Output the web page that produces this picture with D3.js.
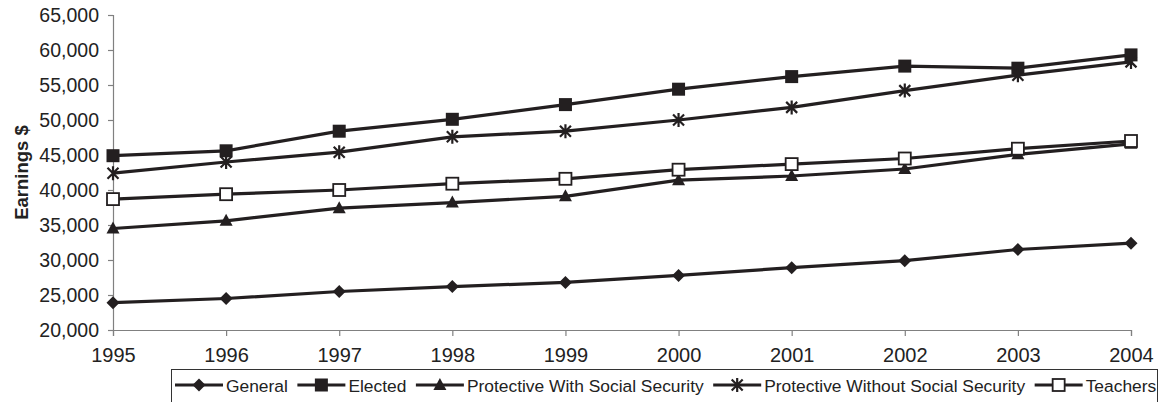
<!DOCTYPE html>
<html>
<head>
<meta charset="utf-8">
<script src="https://cdn.jsdelivr.net/npm/d3@7"></script>
<style>
  html, body { margin: 0; padding: 0; background: #fff; }
  svg { display: block; font-family: "Liberation Sans", Arial, sans-serif; }
</style>
</head>
<body>
<svg id="chart" width="1168" height="402"></svg>
<script>
// Annual earnings by employee group, 1995–2004
const years = [1995, 1996, 1997, 1998, 1999, 2000, 2001, 2002, 2003, 2004];
const general      = [23900, 24500, 25500, 26200, 26800, 27800, 28900, 29900, 31500, 32400];
const elected      = [44900, 45600, 48400, 50100, 52200, 54400, 56200, 57700, 57400, 59300];
const protWithSS   = [34500, 35600, 37400, 38200, 39100, 41400, 42000, 43000, 45100, 46600];
const protNoSS     = [42400, 44000, 45400, 47600, 48400, 50000, 51800, 54200, 56400, 58300];
const teachers     = [38700, 39400, 40000, 40900, 41600, 42900, 43700, 44500, 45900, 47000];
const yTicks = [20000, 25000, 30000, 35000, 40000, 45000, 50000, 55000, 60000, 65000];

const seriesNames = ["General", "Elected", "Protective With Social Security",
                     "Protective Without Social Security", "Teachers"];
const seriesValues = [general, elected, protWithSS, protNoSS, teachers];
const seriesMarkers = ["diamond", "square", "triangle", "asterisk", "openSquare"];

const INK = "#231f20";
const AXIS = "#808080";
const FONT = "'Liberation Sans', Arial, sans-serif";

const svg = d3.select("#chart");
const margin = { left: 113, right: 37, top: 15, bottom: 72 };
const W = 1168, H = 402;

const x = d3.scaleLinear().domain([1995, 2004]).range([margin.left, W - margin.right]);
const y = d3.scaleLinear().domain([20000, 65000]).range([H - margin.bottom, margin.top]);

// Y axis
const yAxis = svg.append("g")
  .attr("transform", `translate(${margin.left},0)`)
  .call(d3.axisLeft(y).tickValues(yTicks).tickFormat(d3.format(",")).tickSize(5).tickPadding(9));
yAxis.attr("font-size", 19.5).attr("font-family", FONT);
yAxis.selectAll("text").attr("fill", "#222");

// X axis
const xAxis = svg.append("g")
  .attr("transform", `translate(0,${y(20000)})`)
  .call(d3.axisBottom(x).tickValues(years).tickFormat(d3.format("d")).tickSize(6).tickPadding(12));
xAxis.attr("font-size", 20).attr("font-family", FONT);
xAxis.selectAll("text").attr("fill", "#222");

[yAxis, xAxis].forEach(a => {
  a.selectAll("path.domain").attr("stroke", AXIS).attr("stroke-width", 1.2);
  a.selectAll(".tick line").attr("stroke", AXIS).attr("stroke-width", 1.2);
});

// Y axis title
svg.append("text")
  .attr("transform", `translate(28,${(y(20000) + y(65000)) / 2}) rotate(-90)`)
  .attr("text-anchor", "middle")
  .attr("font-size", 18.5)
  .attr("font-weight", "bold")
  .attr("fill", "#222")
  .text("Earnings $");

// Marker shapes
function drawMarker(g, type, cx, cy) {
  const s = 6.5;
  if (type === "diamond") {
    g.append("path").attr("d", `M${cx},${cy - s}L${cx + s},${cy}L${cx},${cy + s}L${cx - s},${cy}Z`)
      .attr("fill", INK);
  } else if (type === "square") {
    g.append("rect").attr("x", cx - 6.5).attr("y", cy - 6.5).attr("width", 13).attr("height", 13)
      .attr("fill", INK);
  } else if (type === "triangle") {
    g.append("path").attr("d", `M${cx},${cy - 7}L${cx + 6.5},${cy + 5}L${cx - 6.5},${cy + 5}Z`)
      .attr("fill", INK);
  } else if (type === "asterisk") {
    const a = 5.5;
    g.append("path")
      .attr("d", `M${cx - a},${cy - a}L${cx + a},${cy + a}M${cx - a},${cy + a}L${cx + a},${cy - a}M${cx},${cy - 7}L${cx},${cy + 7}`)
      .attr("stroke", INK).attr("stroke-width", 2.2).attr("fill", "none");
  } else if (type === "openSquare") {
    g.append("rect").attr("x", cx - 6).attr("y", cy - 6).attr("width", 12).attr("height", 12)
      .attr("fill", "#fff").attr("stroke", INK).attr("stroke-width", 1.8);
  }
}

const line = d3.line().x((d, i) => x(years[i])).y(d => y(d));

seriesValues.forEach((vals, k) => {
  const g = svg.append("g");
  g.append("path").datum(vals)
    .attr("d", line)
    .attr("fill", "none")
    .attr("stroke", INK)
    .attr("stroke-width", 3.2);
  vals.forEach((v, i) => drawMarker(g, seriesMarkers[k], x(years[i]), y(v)));
});

// Legend
const legend = svg.append("g");
legend.append("rect")
  .attr("x", 171.5).attr("y", 369.5).attr("width", 986).attr("height", 40)
  .attr("fill", "#fff").attr("stroke", "#333").attr("stroke-width", 1);

let lx = 175;
const ly = 385;
seriesNames.forEach((name, k) => {
  const g = legend.append("g");
  g.append("line").attr("x1", lx).attr("x2", lx + 48).attr("y1", ly).attr("y2", ly)
    .attr("stroke", INK).attr("stroke-width", 3);
  drawMarker(g, seriesMarkers[k], lx + 24, ly);
  const t = g.append("text").attr("x", lx + 51).attr("y", ly + 6.5)
    .attr("font-size", 17.4).attr("fill", "#222").text(name);
  lx = lx + 51 + t.node().getComputedTextLength() + 9.5;
});
</script>
</body>
</html>
